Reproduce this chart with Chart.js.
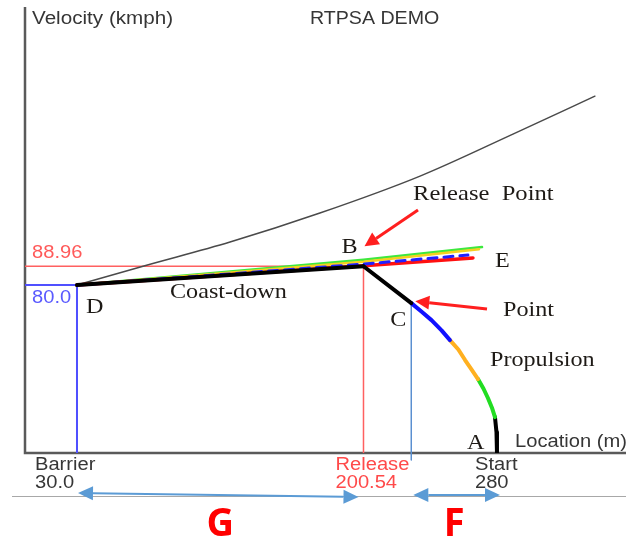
<!DOCTYPE html>
<html>
<head>
<meta charset="utf-8">
<title>RTPSA DEMO</title>
<script src="https://cdn.jsdelivr.net/npm/chart.js@4.4.1/dist/chart.umd.min.js"></script>
<style>
  html, body { margin: 0; padding: 0; background: #fff; }
  canvas { display: block; }
</style>
</head>
<body>
<canvas id="rtpsa-chart" width="626" height="541"></canvas>
<script>
// location (m) and velocity (kmph)
const barrierLoc = 30.0;
const releaseLoc = 200.54;
const startLoc = 280;
const barrierVel = 80.0;
const releaseVel = 88.96;
const pointCLoc = 229;
const pointCVel = 71.4;

const xMin = -0.95, xMax = 356.8;
const yMin = 0, yMax = 212;

// coast-down D -> B
const coastLoc = [30.0, 200.54];
const coastVel = [80.0, 88.96];

// B -> C
const decelLoc = [200.54, 229];
const decelVel = [88.96, 71.4];

// propulsion C -> A, in colour pieces
const propBlueLoc = [229, 235, 241, 247, 252];
const propBlueVel = [71.4, 67.4, 63.3, 58.4, 53.8];
const propOrangeLoc = [252, 257, 261, 265, 268.7];
const propOrangeVel = [53.8, 49.3, 44.3, 39.6, 35.2];
const propGreenLoc = [268.7, 272, 274.6, 277, 278.8];
const propGreenVel = [35.2, 30.6, 26.2, 21.6, 17.1];
const propEndLoc = [278.8, 279.7, 280, 280];
const propEndVel = [17.1, 10, 5, 0];

// D -> E runs
const greenLoc = [30.0, 200.54, 271.1];
const greenVel = [80.0, 92.1, 98.1];
const yellowLoc = [30.0, 200.54, 269.3];
const yellowVel = [80.0, 91.1, 97.1];
const blueLoc = [30.0, 200.54, 262.7];
const blueVel = [80.0, 90.0, 94.3];
const redLoc = [30.0, 200.54, 265.7];
const redVel = [80.0, 89.2, 92.9];

// upper thin curve from D
const upperLoc = [30.0, 69.3, 121.1, 174.6, 234.2, 289.5, 338.3];
const upperVel = [80.0, 89.0, 100.5, 114.3, 131.9, 151.9, 170.0];

const velLabels = ['88.96', '80.0'];
const locLabels = [['Barrier', barrierLoc.toFixed(1)], ['Release', String(releaseLoc)], ['Start', String(startLoc)]];

function pts(locs, vels) {
    return locs.map((x, i) => ({ x: x, y: vels[i] }));
}

function line(data, color, width, extra) {
    return Object.assign({
        data: data,
        borderColor: color,
        borderWidth: width,
        pointRadius: 0,
        fill: false,
        tension: 0,
        borderCapStyle: 'round',
        borderJoinStyle: 'round'
    }, extra || {});
}

function stretchText(ctx, txt, x, y, font, color, sx, align) {
    ctx.save();
    ctx.font = font;
    ctx.fillStyle = color;
    ctx.textBaseline = 'alphabetic';
    ctx.translate(x, y);
    ctx.scale(sx, 1);
    if (align === 'right') {
        ctx.textAlign = 'right';
    } else if (align === 'center') {
        ctx.textAlign = 'center';
    } else {
        ctx.textAlign = 'left';
    }
    ctx.fillText(txt, 0, 0);
    ctx.restore();
}

function arrow(ctx, x1, y1, x2, y2, color, width, headLen, headHalf, both) {
    ctx.save();
    ctx.strokeStyle = color;
    ctx.fillStyle = color;
    ctx.lineWidth = width;
    const a = Math.atan2(y2 - y1, x2 - x1);
    const ux = Math.cos(a), uy = Math.sin(a);
    const sx = both ? x1 + ux * headLen : x1, sy = both ? y1 + uy * headLen : y1;
    ctx.beginPath();
    ctx.moveTo(sx, sy);
    ctx.lineTo(x2 - ux * headLen, y2 - uy * headLen);
    ctx.stroke();
    const head = (tx, ty, dx, dy) => {
        ctx.beginPath();
        ctx.moveTo(tx, ty);
        ctx.lineTo(tx - dx * headLen - dy * headHalf, ty - dy * headLen + dx * headHalf);
        ctx.lineTo(tx - dx * headLen + dy * headHalf, ty - dy * headLen - dx * headHalf);
        ctx.closePath();
        ctx.fill();
    };
    head(x2, y2, ux, uy);
    if (both) head(x1, y1, -ux, -uy);
    ctx.restore();
}

const axesLines = {
    id: 'axesLines',
    beforeDatasetsDraw(chart) {
        const ctx = chart.ctx, ca = chart.chartArea;
        ctx.save();
        ctx.strokeStyle = '#5a5a5a';
        ctx.lineWidth = 2.5;
        ctx.beginPath();
        ctx.moveTo(ca.left, ca.top - 1);
        ctx.lineTo(ca.left, ca.bottom);
        ctx.lineTo(ca.right, ca.bottom);
        ctx.stroke();
        ctx.restore();
    }
};

const annotations = {
    id: 'annotations',
    afterDraw(chart) {
        const ctx = chart.ctx, ca = chart.chartArea;
        const px = v => chart.scales.x.getPixelForValue(v);
        const py = v => chart.scales.y.getPixelForValue(v);
        const sans = '17.5px "Liberation Sans", Arial, sans-serif';
        const serif = '21px "Liberation Serif", "Times New Roman", serif';
        const grey = '#363636';
        const ink = '#1e1a16';

        stretchText(ctx, 'Velocity (kmph)', ca.left + 7, 24, sans, grey, 1.18);
        stretchText(ctx, 'RTPSA DEMO', 310, 24, sans, grey, 1.12);

        stretchText(ctx, velLabels[0], ca.left + 7, py(releaseVel) - 8, sans, '#ff5a5a', 1.15);
        stretchText(ctx, velLabels[1], ca.left + 7, py(barrierVel) + 18, sans, '#5a5aff', 1.15);

        stretchText(ctx, 'D', px(barrierLoc) + 9, py(barrierVel) + 28, serif, ink, 1.15);
        stretchText(ctx, 'B', px(releaseLoc) - 6, py(releaseVel) - 13, serif, ink, 1.15, 'right');
        stretchText(ctx, 'E', 495, 267, serif, ink, 1.15);
        stretchText(ctx, 'C', px(pointCLoc) - 21, py(pointCVel) + 23, serif, ink, 1.15);
        stretchText(ctx, 'A', px(startLoc) - 30, ca.bottom - 4, serif, ink, 1.15);
        stretchText(ctx, 'Coast-down', 170, 298, serif, ink, 1.15);
        stretchText(ctx, 'Release  Point', 413, 200, serif, ink, 1.17);
        stretchText(ctx, 'Point', 503, 316, serif, ink, 1.15);
        stretchText(ctx, 'Propulsion', 490, 366, serif, ink, 1.15);
        stretchText(ctx, 'Location (m)', 515, 447, sans, grey, 1.15);

        // red pointer arrows
        arrow(ctx, 418, 210, px(releaseLoc) + 1, py(releaseVel) - 20, '#ff1f1f', 3, 14, 7);
        arrow(ctx, 487, 309, px(pointCLoc) + 4, py(pointCVel) - 2, '#ff1f1f', 3, 14, 7);

        // location labels under the axis
        const locX = [px(barrierLoc) - 42, px(releaseLoc) - 28, px(startLoc) - 22];
        const locCol = [grey, '#ff4a4a', grey];
        locLabels.forEach((pair, i) => {
            stretchText(ctx, pair[0], locX[i], 470, sans, locCol[i], 1.15);
            stretchText(ctx, pair[1], locX[i], 488, sans, locCol[i], 1.15);
        });

        // separator and span arrows
        ctx.save();
        ctx.strokeStyle = '#a8a8a8';
        ctx.lineWidth = 1;
        ctx.beginPath();
        ctx.moveTo(12, 496.5);
        ctx.lineTo(ca.right, 496.5);
        ctx.stroke();
        ctx.restore();
        arrow(ctx, px(barrierLoc) + 1, 493, px(releaseLoc) - 5, 497, '#5b9bd5', 2, 15, 7, true);
        arrow(ctx, px(pointCLoc) + 2, 495, px(startLoc) + 3, 495, '#5b9bd5', 2, 15, 7, true);

        stretchText(ctx, 'G', (px(barrierLoc) + px(releaseLoc)) / 2, 536, 'bold 40px "Open Sans", "Liberation Sans", sans-serif', '#ff0000', 0.95, 'center');
        stretchText(ctx, 'F', (px(pointCLoc) + px(startLoc)) / 2, 536, 'bold 40px "Open Sans", "Liberation Sans", sans-serif', '#ff0000', 0.95, 'center');
    }
};

const datasets = [
    // propulsion on top
    line(pts(decelLoc, decelVel), '#000000', 4),
    line(pts(propBlueLoc, propBlueVel), '#1010ff', 4),
    line(pts(propOrangeLoc, propOrangeVel), '#ffb020', 4),
    line(pts(propGreenLoc, propGreenVel), '#22dd22', 4),
    line(pts(propEndLoc, propEndVel), '#000000', 4),
    // coast-down over the D -> E runs
    line(pts(coastLoc, coastVel), '#000000', 4),
    line(pts(blueLoc, blueVel), '#2020ff', 3, { borderDash: [9, 7] }),
    line(pts(redLoc, redVel), '#ff1010', 3.5),
    line(pts(yellowLoc, yellowVel), '#f5d020', 2.5),
    line(pts(greenLoc, greenVel), '#3ee83e', 2.5),
    line(pts(upperLoc, upperVel), '#4a4a4a', 1.5, { tension: 0.4, cubicInterpolationMode: 'monotone' }),
    // reference lines
    line(pts([xMin, releaseLoc, releaseLoc], [releaseVel, releaseVel, yMin]), '#ff6060', 1.5, { borderCapStyle: 'butt', borderJoinStyle: 'miter' }),
    line(pts([xMin, barrierLoc, barrierLoc], [barrierVel, barrierVel, yMin]), '#5050ff', 2, { borderCapStyle: 'butt', borderJoinStyle: 'miter' }),
    line(pts([pointCLoc, pointCLoc], [pointCVel, -3.5]), '#5b8fd0', 1, { borderCapStyle: 'butt', clip: false })
];

new Chart(document.getElementById('rtpsa-chart'), {
    type: 'scatter',
    data: { datasets: datasets.map(d => Object.assign(d, { showLine: true })) },
    options: {
        responsive: false,
        animation: false,
        layout: { padding: { left: 25, top: 8, right: 0, bottom: 88 } },
        scales: {
            x: { type: 'linear', display: false, min: xMin, max: xMax },
            y: { type: 'linear', display: false, min: yMin, max: yMax }
        },
        plugins: {
            legend: { display: false },
            tooltip: { enabled: false }
        }
    },
    plugins: [axesLines, annotations]
});
</script>
</body>
</html>
